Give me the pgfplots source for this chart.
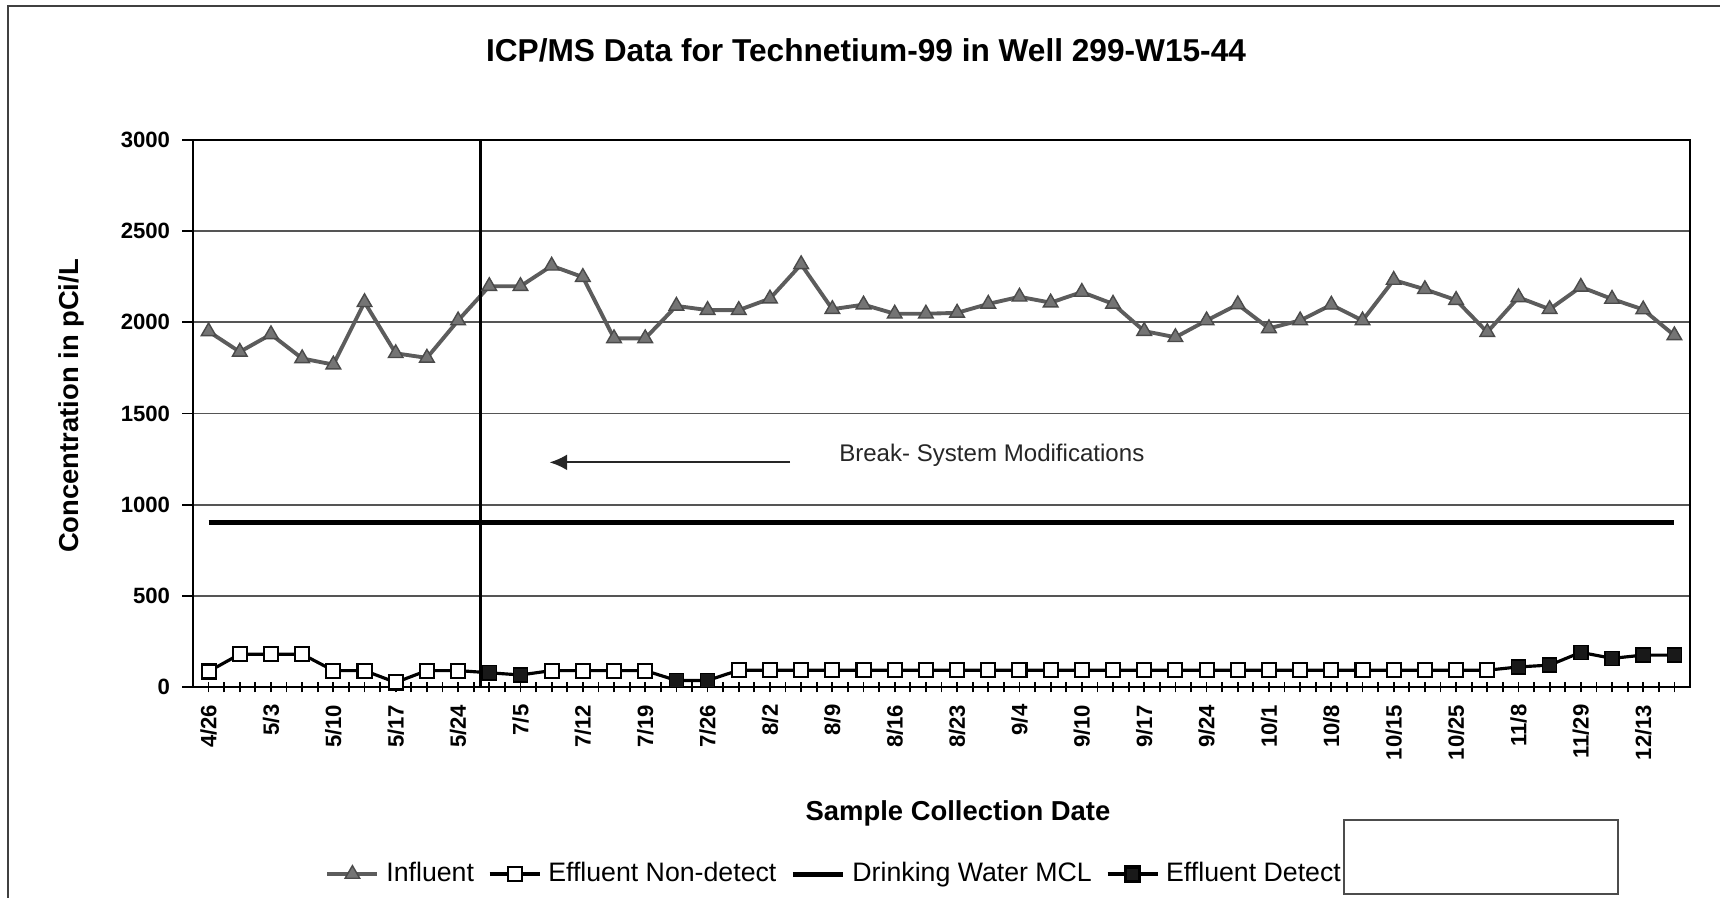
\documentclass[border=0pt]{standalone}
\usepackage{pgfplots}
\pgfplotsset{compat=1.18}
\usepackage{fontspec}
\setmainfont{Liberation Sans}
\usetikzlibrary{arrows.meta}

\definecolor{infl}{RGB}{92,92,92}
\definecolor{gridc}{RGB}{85,85,85}

% influent Tc-99, one row per sample (index on the category axis)
\pgfplotstableread{
x y
0 1950
1 1838
2 1934
3 1802
4 1768
5 2110
6 1830
7 1805
8 2010
9 2198
10 2198
11 2310
12 2248
13 1912
14 1912
15 2090
16 2067
17 2067
18 2130
19 2318
20 2072
21 2097
22 2047
23 2047
24 2052
25 2101
26 2140
27 2108
28 2166
29 2101
30 1952
31 1918
32 2010
33 2098
34 1967
35 2010
36 2096
37 2010
38 2232
39 2181
40 2122
41 1946
42 2137
43 2072
44 2194
45 2128
46 2070
47 1928
}\influent

% effluent, non-detect samples
\pgfplotstableread{
x y
0 85
1 180
2 180
3 180
4 90
5 90
6 25
7 90
8 90
11 90
12 90
13 90
14 90
17 92
18 92
19 92
20 92
21 92
22 92
23 92
24 92
25 92
26 92
27 92
28 92
29 92
30 92
31 92
32 92
33 92
34 92
35 92
36 92
37 92
38 92
39 92
40 92
41 92
}\nondetect

% effluent, detected
\pgfplotstableread{
x y
9 78
10 66
15 36
16 36
42 110
43 120
44 190
45 157
46 175
47 175
}\detect

\begin{document}
\begin{tikzpicture}[x=0.1mm,y=0.1mm]
\path[use as bounding box] (0,0) rectangle (1720,898);
\draw[black!75, line width=0.6pt] (8,0) -- (8,892) -- (1720,892);
\draw[black!70, line width=0.5pt] (1344,4) rectangle (1618,78);

\begin{axis}[
    at={(19.3mm,21.1mm)}, anchor=south west,
    scale only axis, width=149.7mm, height=54.7mm,
    xmin=-0.5, xmax=47.5, ymin=0, ymax=3000,
    xtick={0,...,47},
    xticklabels={4/26,,5/3,,5/10,,5/17,,5/24,,7/5,,7/12,,7/19,,7/26,,8/2,,8/9,,8/16,,8/23,,9/4,,9/10,,9/17,,9/24,,10/1,,10/8,,10/15,,10/25,,11/8,,11/29,,12/13,},
    minor x tick num=1,
    ytick={0,500,...,3000},
    xtick pos=lower, ytick pos=left,
    xtick align=center, ytick align=outside,
    major tick length=3pt, minor tick length=3pt,
    scaled y ticks=false,
    /pgf/number format/1000 sep={},
    /pgf/number format/assume math mode=true,
    xticklabel style={rotate=90, anchor=east, font=\fontsize{6.3}{7}\selectfont\bfseries},
    yticklabel style={font=\fontsize{6.3}{7}\selectfont\bfseries},
    ymajorgrids, grid style={gridc, line width=0.5pt},
    axis line style={black, line width=0.6pt},
    tick style={black, line width=0.5pt},
    legend image code/.code={\draw[mark repeat=2,mark phase=2,#1] plot coordinates {(0cm,0cm) (0.25cm,0cm) (0.5cm,0cm)};},
    legend style={at={(0.430,-0.342)}, anchor=center, draw=none, fill=none,
        font=\fontsize{7.6}{9}\selectfont, legend columns=-1,
        /tikz/every even column/.append style={column sep=2pt}},
  ]
  \addplot[infl, line width=1.1pt, mark=triangle*, mark size=2.4pt,
           mark options={fill=infl!85, draw=infl!80!black, line width=0.4pt}, forget plot]
    table[x=x,y=y] {\influent};
  % effluent trace runs through every effluent sample
  \addplot[black, line width=0.9pt, forget plot] coordinates {
    (0,85) (1,180) (2,180) (3,180) (4,90) (5,90) (6,25) (7,90) (8,90) (9,78)
    (10,66) (11,90) (12,90) (13,90) (14,90) (15,36) (16,36) (17,92) (18,92) (19,92)
    (20,92) (21,92) (22,92) (23,92) (24,92) (25,92) (26,92) (27,92) (28,92) (29,92)
    (30,92) (31,92) (32,92) (33,92) (34,92) (35,92) (36,92) (37,92) (38,92) (39,92)
    (40,92) (41,92) (42,110) (43,120) (44,190) (45,157) (46,175) (47,175)};
  \addplot[only marks, mark=square*, mark size=2pt,
           mark options={fill=white, draw=black, line width=0.6pt}, forget plot]
    table[x=x,y=y] {\nondetect};
  \addplot[only marks, mark=square*, mark size=2pt,
           mark options={fill=black!90, draw=black}, forget plot]
    table[x=x,y=y] {\detect};
  % drinking water MCL
  \addplot[black, line width=1.4pt, forget plot] coordinates {(0,900) (47,900)};

  \draw[black, line width=0.6pt] (axis cs:8.72,0) -- (axis cs:8.72,3000);
  \draw[black!85, line width=0.6pt, -{Latex[length=5pt,width=4.5pt]}]
    (axis cs:18.65,1232) -- (axis cs:10.93,1232);
  \node[anchor=west, inner sep=0pt, font=\fontsize{6.85}{8}\selectfont, text=black!85]
    at (axis cs:20.2,1273) {Break- System Modifications};

  \addlegendimage{infl, line width=1.1pt, mark=triangle*, mark size=2.4pt, mark options={fill=infl!85, draw=infl!80!black, line width=0.4pt}}
  \addlegendentry{Influent}
  \addlegendimage{black, line width=0.9pt, mark=square*, mark size=2pt, mark options={fill=white, draw=black, line width=0.6pt}}
  \addlegendentry{Effluent Non-detect}
  \addlegendimage{black, line width=1.4pt}
  \addlegendentry{Drinking Water MCL}
  \addlegendimage{black, line width=0.9pt, mark=square*, mark size=2pt, mark options={fill=black!90, draw=black}}
  \addlegendentry{Effluent Detect}
\end{axis}

\node[font=\fontsize{9}{11}\selectfont\bfseries] at (866,848) {ICP/MS Data for Technetium-99 in Well 299-W15-44};
\node[rotate=90, font=\fontsize{7.8}{9}\selectfont\bfseries] at (71,492) {Concentration in pCi/L};
\node[font=\fontsize{7.8}{9}\selectfont\bfseries] at (958,85) {Sample Collection Date};
\end{tikzpicture}
\end{document}
